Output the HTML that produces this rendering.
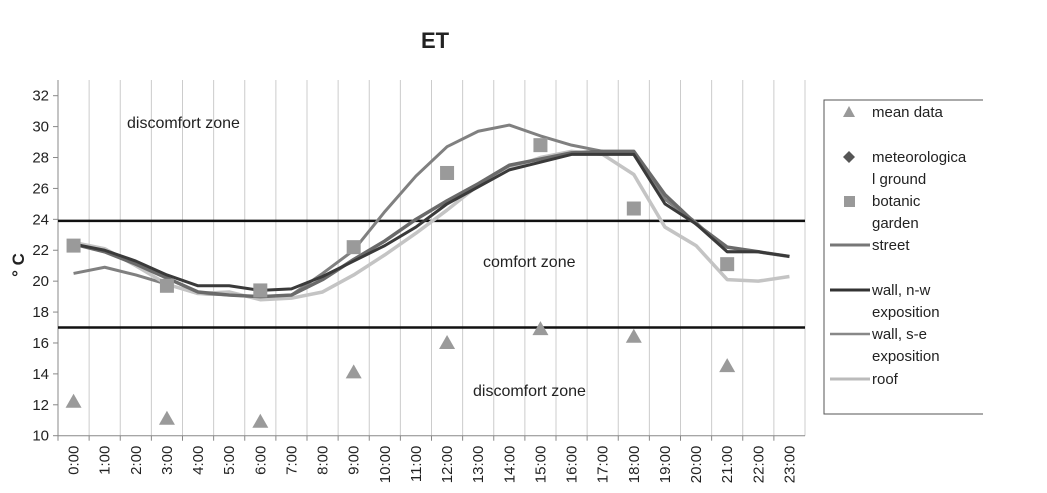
<!DOCTYPE html>
<html><head><meta charset="utf-8"><style>
body{margin:0;background:#fff;}
svg text{font-family:"Liberation Sans",sans-serif;}
</style></head><body>
<svg id="chart" width="1047" height="488" viewBox="0 0 1047 488">
<text x="435" y="48" font-size="22" font-weight="bold" text-anchor="middle" fill="#222">ET</text>
<text transform="translate(24,265) rotate(-90)" font-size="17" font-weight="bold" text-anchor="middle" fill="#222">° C</text>
<g id="grid"></g><g id="axes"></g><g id="zones"></g><g id="series"></g>
<text x="127" y="128" font-size="16" fill="#222">discomfort zone</text>
<text x="483" y="267" font-size="16" fill="#222">comfort zone</text>
<text x="473" y="396" font-size="16" fill="#222">discomfort zone</text>
<g>
<path d="M983 100 H824 V414 H983" fill="none" stroke="#555" stroke-width="1"/>
<polygon points="849,106 843,117 855,117" fill="#999"/>
<text x="872" y="117" font-size="15" fill="#222">mean data</text>
<polygon points="849,151 855,157 849,163 843,157" fill="#555"/>
<text x="872" y="162" font-size="15" fill="#222">meteorologica</text>
<text x="872" y="184" font-size="15" fill="#222">l ground</text>
<rect x="844" y="196" width="11" height="11" fill="#999"/>
<text x="872" y="206" font-size="15" fill="#222">botanic</text>
<text x="872" y="228" font-size="15" fill="#222">garden</text>
<line x1="830" y1="245" x2="870" y2="245" stroke="#777" stroke-width="3"/>
<text x="872" y="250" font-size="15" fill="#222">street</text>
<line x1="830" y1="290" x2="870" y2="290" stroke="#333" stroke-width="3"/>
<text x="872" y="295" font-size="15" fill="#222">wall, n-w</text>
<text x="872" y="317" font-size="15" fill="#222">exposition</text>
<line x1="830" y1="334" x2="870" y2="334" stroke="#888" stroke-width="2.5"/>
<text x="872" y="339" font-size="15" fill="#222">wall, s-e</text>
<text x="872" y="361" font-size="15" fill="#222">exposition</text>
<line x1="830" y1="379" x2="870" y2="379" stroke="#bbb" stroke-width="3"/>
<text x="872" y="384" font-size="15" fill="#222">roof</text>
</g>
</svg>
<script>
const hours=["0:00","1:00","2:00","3:00","4:00","5:00","6:00","7:00","8:00","9:00","10:00","11:00","12:00","13:00","14:00","15:00","16:00","17:00","18:00","19:00","20:00","21:00","22:00","23:00"];
const yTicks=[10,12,14,16,18,20,22,24,26,28,30,32];
const comfortBounds=[23.9,17.0];
const markerHours=[0,3,6,9,12,15,18,21];
const meanData=[12.2,11.1,10.9,14.1,16.0,16.9,16.4,14.5];
const botanicGarden=[22.3,19.7,19.4,22.2,27.0,28.8,24.7,21.1];
const street=[22.4,21.9,21.1,20.2,19.3,19.1,19.0,19.1,20.1,21.4,22.6,24.0,25.2,26.3,27.5,27.9,28.3,28.4,28.4,25.6,23.7,22.2,21.9,21.6];
const wallNW=[22.4,22.0,21.3,20.4,19.7,19.7,19.4,19.5,20.3,21.3,22.3,23.5,25.0,26.1,27.2,27.7,28.2,28.2,28.2,25.0,23.7,21.9,21.9,21.6];
const wallSE=[20.5,20.9,20.4,19.8,19.2,19.1,19.0,19.1,20.5,22.0,24.5,26.8,28.7,29.7,30.1,29.4,28.8,28.4,28.2,25.3,23.8,21.9,21.9,21.6];
const roof=[22.5,22.1,21.0,19.8,19.2,19.3,18.8,18.9,19.3,20.4,21.7,23.1,24.6,26.2,27.3,28.0,28.4,28.2,26.9,23.5,22.3,20.1,20.0,20.3];

const NS="http://www.w3.org/2000/svg";
const X0=58,X1=805,Y0=435.7,YTOP=95.7,YMIN=10,YMAX=32;
const bw=(X1-X0)/hours.length;
const xc=i=>X0+bw*(i+0.5);
const y=v=>Y0-(v-YMIN)/(YMAX-YMIN)*(Y0-YTOP);
function mk(tag,attrs,parent){const e=document.createElementNS(NS,tag);for(const k in attrs)e.setAttribute(k,attrs[k]);parent.appendChild(e);return e;}
const grid=document.getElementById('grid'),axes=document.getElementById('axes'),zones=document.getElementById('zones'),ser=document.getElementById('series');
for(let i=1;i<=hours.length;i++){
  const e=mk('line',{x1:X0+bw*i,x2:X0+bw*i,y1:80,y2:Y0,stroke:'#ccc','stroke-width':1},grid);
  
  
}
const ya=mk('line',{x1:X0,x2:X0,y1:80,y2:Y0,stroke:'#888','stroke-width':1},axes);


const xa=mk('line',{x1:X0,x2:X1,y1:Y0,y2:Y0,stroke:'#888','stroke-width':1},axes);


yTicks.forEach(v=>{
  mk('line',{x1:X0-5,x2:X0,y1:y(v),y2:y(v),stroke:'#888'},axes);
  const t=mk('text',{x:X0-9,y:y(v)+5,'font-size':15,'text-anchor':'end',fill:'#222'},axes);
  t.textContent=v;
  
  
});
hours.forEach((h,i)=>{
  mk('line',{x1:X0+bw*i,x2:X0+bw*i,y1:Y0,y2:Y0+5,stroke:'#888'},axes);
  const t=mk('text',{transform:`translate(${xc(i)+5},${Y0+10}) rotate(-90)`,'font-size':15,'text-anchor':'end',fill:'#222'},axes);
  t.textContent=h;
  
  
});
comfortBounds.forEach(v=>{
  const l=mk('line',{x1:X0,x2:X1,y1:y(v),y2:y(v),stroke:'#111','stroke-width':2.5},zones);
  
  
});
function line(data,color,w,name){
  const p=mk('polyline',{points:data.map((v,i)=>xc(i)+','+y(v)).join(' '),fill:'none',stroke:color,'stroke-width':w,'stroke-linejoin':'round'},ser);
  
  
}
line(wallSE,'#808080',3,'line-wall-se');
line(roof,'#c4c4c4',3.5,'line-roof');
line(street,'#6a6a6a',3.5,'line-street');
line(wallNW,'#3a3a3a',3,'line-wall-nw');
markerHours.forEach((h,k)=>{
  const cx=xc(h);
  const s=mk('rect',{x:cx-7,y:y(botanicGarden[k])-7,width:14,height:14,fill:'#9a9a9a'},ser);
  
  
  const ty=y(meanData[k]);
  const t=mk('polygon',{points:`${cx},${ty-8} ${cx-8},${ty+6} ${cx+8},${ty+6}`,fill:'#9a9a9a'},ser);
  
  
});
</script>
</body></html>
